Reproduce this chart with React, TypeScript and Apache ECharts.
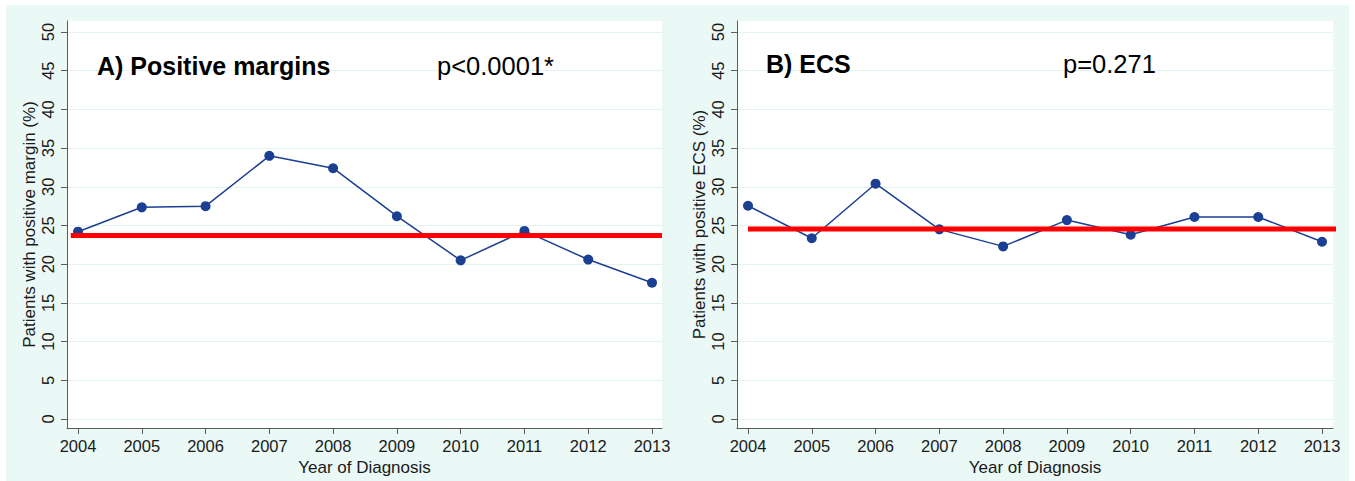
import React, { useEffect, useRef } from "react";
import * as echarts from "echarts";

const years = [2004, 2005, 2006, 2007, 2008, 2009, 2010, 2011, 2012, 2013];
const marginValues = [24.2, 27.35, 27.5, 34.0, 32.4, 26.2, 20.5, 24.3, 20.6, 17.6];
const ecsValues = [27.55, 23.35, 30.4, 24.5, 22.3, 25.7, 23.8, 26.1, 26.1, 22.9];
const marginMean = 23.7;
const ecsMean = 24.55;
const yTicks = [0, 5, 10, 15, 20, 25, 30, 35, 40, 45, 50];
const marginMeanSpan = [2003.886, 2013.157];
const ecsMeanSpan = [2004, 2013.3];

const FONT = "'Liberation Sans', Arial, Helvetica, sans-serif";
const AXIS_COLOR = "#5c5c5c";
const GRID_COLOR = "#e3f3f0";
const BG = "#eaf8f6";
const NAVY = "#1b3f93";
const TEXT = "#1a1a1a";

function xAxisFor(gridIndex: number) {
  return {
    type: "value",
    gridIndex,
    min: 2003.8275,
    max: gridIndex === 0 ? 2013.157 : 2013.172,
    name: "Year of Diagnosis",
    nameLocation: "middle",
    nameGap: 28,
    nameTextStyle: { fontFamily: FONT, fontSize: 17, color: TEXT },
    axisLine: { onZero: false, lineStyle: { color: AXIS_COLOR, width: 1 } },
    axisTick: { show: true, length: 6, customValues: years, lineStyle: { color: AXIS_COLOR } },
    axisLabel: {
      customValues: years,
      margin: 9,
      fontFamily: FONT,
      fontSize: 16.5,
      color: TEXT,
      formatter: (v: number) => String(Math.round(v)),
    },
    splitLine: { show: false },
  };
}

function yAxisFor(gridIndex: number, title: string) {
  return {
    type: "value",
    gridIndex,
    min: -1.163,
    max: 51.42,
    name: title,
    nameLocation: "middle",
    nameRotate: 90,
    nameGap: 29,
    nameTextStyle: { fontFamily: FONT, fontSize: 17, color: TEXT },
    axisLine: { show: true, onZero: false, lineStyle: { color: AXIS_COLOR, width: 1 } },
    axisTick: { show: true, length: 6, customValues: yTicks, lineStyle: { color: AXIS_COLOR } },
    axisLabel: {
      customValues: yTicks,
      rotate: 90,
      margin: 11,
      fontFamily: FONT,
      fontSize: 16.5,
      color: TEXT,
    },
    splitLine: { show: true, lineStyle: { color: GRID_COLOR, width: 1 } },
  };
}

function dataSeries(idx: number, values: number[]) {
  return {
    type: "line",
    xAxisIndex: idx,
    yAxisIndex: idx,
    data: years.map((y, i) => [y, values[i]]),
    symbol: "circle",
    symbolSize: 10,
    lineStyle: { color: NAVY, width: 1.5 },
    itemStyle: { color: NAVY },
    z: 2,
  };
}

function meanSeries(idx: number, span: number[], mean: number) {
  return {
    type: "line",
    xAxisIndex: idx,
    yAxisIndex: idx,
    data: span.map((x) => [x, mean]),
    symbol: "none",
    clip: false,
    lineStyle: { color: "#ff0000", width: 5 },
    z: 3,
  };
}

export default function App() {
  const ref = useRef<HTMLDivElement>(null);
  useEffect(() => {
    if (!ref.current) return;
    const chart = echarts.init(ref.current, null, { renderer: "svg" });
    chart.setOption({
      animation: false,
      backgroundColor: "#ffffff",
      grid: [
        { left: 67, top: 21, width: 595, height: 407, show: true, backgroundColor: "#ffffff", borderWidth: 0 },
        { left: 737, top: 21, width: 596, height: 407, show: true, backgroundColor: "#ffffff", borderWidth: 0 },
      ],
      xAxis: [xAxisFor(0), xAxisFor(1)],
      yAxis: [
        yAxisFor(0, "Patients with positive margin (%)"),
        yAxisFor(1, "Patients with positive ECS (%)"),
      ],
      series: [
        dataSeries(0, marginValues),
        meanSeries(0, marginMeanSpan, marginMean),
        dataSeries(1, ecsValues),
        meanSeries(1, ecsMeanSpan, ecsMean),
      ],
      graphic: [
        { type: "rect", z: -100, silent: true, shape: { x: 6, y: 5, width: 1343, height: 476 }, style: { fill: BG } },
        { type: "text", z: 10, x: 97, y: 66, style: { text: "A) Positive margins", fontFamily: FONT, fontWeight: "bold", fontSize: 25, fill: "#000", verticalAlign: "middle" } },
        { type: "text", z: 10, x: 437, y: 66, style: { text: "p<0.0001*", fontFamily: FONT, fontSize: 25.5, fill: "#000", verticalAlign: "middle" } },
        { type: "text", z: 10, x: 766, y: 64, style: { text: "B) ECS", fontFamily: FONT, fontWeight: "bold", fontSize: 25, fill: "#000", verticalAlign: "middle" } },
        { type: "text", z: 10, x: 1063, y: 64, style: { text: "p=0.271", fontFamily: FONT, fontSize: 25.5, fill: "#000", verticalAlign: "middle" } },
      ],
    });
    return () => chart.dispose();
  }, []);
  return <div ref={ref} style={{ position: "fixed", left: 0, top: 0, width: 1355, height: 481 }} />;
}
